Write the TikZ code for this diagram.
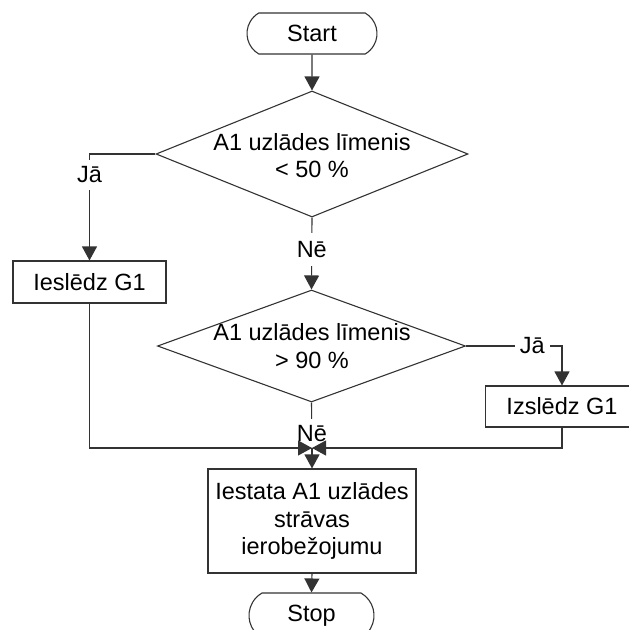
\documentclass[tikz,border=0pt]{standalone}
\usepackage{fontspec}
\setmainfont{Liberation Sans}
\usetikzlibrary{arrows.meta,shapes.geometric,shapes.misc}
\begin{document}
\begin{tikzpicture}[x=1pt,y=-1pt,
  every node/.style={font=\fontsize{23.5}{27.5}\selectfont, text=black},
  line/.style={draw=black!80, line width=1.1pt},
  arr/.style={line, -{Triangle[width=15pt,length=14pt]}},
  term/.style={rounded rectangle, rounded rectangle arc length=120,
    line, inner sep=0pt, minimum height=41pt},
  proc/.style={rectangle, line, inner sep=0pt, align=center},
  dec/.style={diamond, line, inner sep=0pt},
  txt/.style={align=center, inner sep=0pt},
  lbl/.style={fill=white, inner sep=0pt}]
\useasboundingbox (0,0) rectangle (629,630);

% terminals, decisions and actions
\node[term, minimum width=130pt] (start) at (312,33.5) {Start};
\node[dec, minimum width=312pt, minimum height=126pt] (d1) at (312,154) {};
\node[txt] (t1) at (312,156) {A1 uzlādes līmenis\\[-0.5pt]< 50 \%};
\node[proc, minimum width=153pt, minimum height=42pt] (b1) at (89.5,282) {Ieslēdz G1};
\node[dec, minimum width=308pt, minimum height=112pt] (d2) at (311.5,346) {};
\node[txt] (t2) at (312,346) {A1 uzlādes līmenis\\[0.5pt]> 90 \%};
\node[proc, minimum width=153pt, minimum height=41pt] (b2) at (562,406.5) {Izslēdz G1};
\coordinate (m) at (312,448);
\node[proc, minimum width=208pt, minimum height=104pt] (b3) at (312,521)
  {Iestata A1 uzlādes\\strāvas\\ierobežojumu};
\node[term, minimum width=125pt, minimum height=45pt] (stop) at (311.5,615.5) {Stop};

% connectors
\draw[arr] (start) -- (d1.north);
\draw[arr] (d1.west) -| node[lbl, minimum height=30pt, pos=0.598] (ja1) {Jā} (b1.north);
\draw[arr] (d1.south) -- node[lbl, minimum height=33pt, pos=0.445] (ne1) {Nē} (d2.north);
\draw[arr] (d2.east) -| node[lbl, minimum width=35pt, pos=0.345] (ja2) {Jā} (b2.north);
\draw[line] (d2.south) -- node[lbl, minimum height=30pt, pos=0.69] (ne2) {Nē} (m);
\draw[arr] (b1.south) |- (m);
\draw[arr] (b2.south) |- (m);
\draw[arr] (m) -- (b3.north);
\draw[arr] (b3.south) -- (stop.north);
\end{tikzpicture}
\end{document}
